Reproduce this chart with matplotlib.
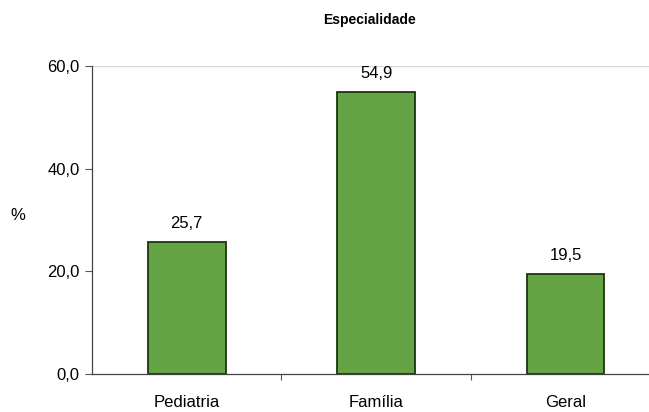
import matplotlib.pyplot as plt
from matplotlib.ticker import FixedLocator

plt.rcParams['font.family'] = ['Liberation Sans', 'DejaVu Sans']

categories = ["Pediatria", "Família", "Geral"]
values = [25.7, 54.9, 19.5]
y_ticks = [0, 20, 40, 60]

fig = plt.figure(figsize=(6.49, 4.12), dpi=100)
ax = fig.add_axes([0.1418, 0.0922, 0.8582, 0.7476])

x = list(range(len(categories)))
bars = ax.bar(x, values, width=0.41, color="#65a445", edgecolor="#1b3510", linewidth=1.3)

for xi, v in zip(x, values):
    ax.annotate(f"{v:.1f}".replace(".", ","), (xi, v), xytext=(0, 8),
                textcoords="offset points", ha="center", va="bottom", fontsize=12)

ax.set_xlim(-0.5, 2.44)
ax.set_ylim(0, 60)
ax.set_yticks(y_ticks)
ax.set_yticklabels([f"{t:.1f}".replace(".", ",") for t in y_ticks], fontsize=12)
ax.set_xticks(x)
ax.set_xticklabels(categories, fontsize=12)
ax.tick_params(axis="x", which="major", length=0, pad=15)
ax.xaxis.set_minor_locator(FixedLocator([0.5, 1.5]))
ax.tick_params(axis="x", which="minor", length=4, width=0.8, color="#555555")
ax.tick_params(axis="y", length=5, width=0.8, color="#555555", pad=4)

ax.axhline(60, color="#d5d5d5", linewidth=0.9)
for side in ("top", "right"):
    ax.spines[side].set_visible(False)
for side in ("left", "bottom"):
    ax.spines[side].set_color("#444444")
    ax.spines[side].set_linewidth(0.9)

fig.text(0.570, 0.951, "Especialidade", ha="center", va="center",
         fontsize=10, fontweight="bold")
fig.text(0.028, 0.478, "%", ha="center", va="center", fontsize=12)

fig.savefig("out.png", dpi=100)
